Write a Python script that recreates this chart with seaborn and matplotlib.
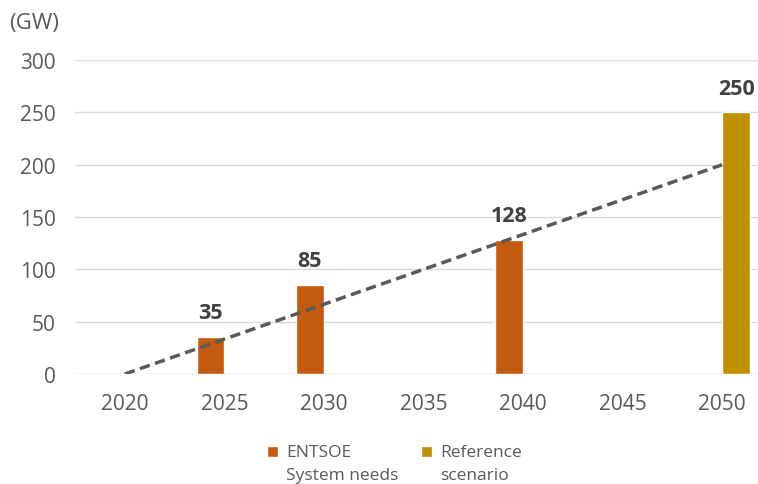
import pandas as pd
import seaborn as sns
import matplotlib.pyplot as plt
from matplotlib.patches import Rectangle
from matplotlib.legend_handler import HandlerPatch

# Data
years = ["2020", "2025", "2030", "2035", "2040", "2045", "2050"]
series_names = ["ENTSOE\nSystem needs", "Reference\nscenario"]
entsoe_years = ["2025", "2030", "2040"]
entsoe_values = [35, 85, 128]
reference_years = ["2050"]
reference_values = [250]
trend_years = ["2020", "2050"]
trend_values = [0, 200]

colors = ["#C55A11", "#BF9000"]

df = pd.DataFrame({
    "year": entsoe_years + reference_years,
    "value": entsoe_values + reference_values,
    "series": [series_names[0]] * len(entsoe_years) + [series_names[1]] * len(reference_years),
})

sns.set_theme(style="white")
plt.rcParams["font.family"] = ["Open Sans", "DejaVu Sans"]

fig = plt.figure(figsize=(7.58, 4.85), dpi=100)
ax = fig.add_axes([0.099, 0.2268, 0.901, 0.6472])

sns.barplot(data=df, x="year", y="value", hue="series", order=years,
            hue_order=series_names, palette=colors, width=0.56, gap=0,
            dodge=True, saturation=1, ax=ax)

# linear trend line through category centres
sns.lineplot(x=[years.index(y) for y in trend_years], y=trend_values,
             color="#595959", lw=2.5, linestyle=(0, (3, 1.6)), ax=ax,
             legend=False)

for cont in ax.containers:
    ax.bar_label(cont, fmt="%d", padding=10, fontsize=15.5, fontweight="bold",
                 color="#404040")

ax.set_ylim(0, 300)
ax.set_xlim(-0.5, 6.36)
ax.set_yticks(range(0, 301, 50))
ax.yaxis.grid(True, color="#D9D9D9", lw=1)
ax.set_axisbelow(True)
for s in ["top", "right", "left", "bottom"]:
    ax.spines[s].set_visible(False)
ax.axhline(0, color="#D9D9D9", lw=1, zorder=0)
ax.tick_params(axis="both", length=0, labelsize=15, labelcolor="#595959")
ax.tick_params(axis="x", pad=14)
ax.tick_params(axis="y", pad=14)
ax.set_xlabel("")
ax.set_ylabel("")
fig.text(0.012, 0.952, "(GW)", fontsize=16, color="#595959", va="center")


# legend squares sit next to the first line of the two-line labels
def top_square(legend, orig_handle, xdescent, ydescent, width, height, fontsize):
    return Rectangle((-xdescent, -ydescent + 8.3), width, height)


handles, labels = ax.get_legend_handles_labels()
leg = ax.legend(handles, labels, loc="lower center", bbox_to_anchor=(0.52, -0.03),
                bbox_transform=fig.transFigure, ncol=2, frameon=False,
                fontsize=12.5, labelcolor="#595959", handlelength=0.65,
                handleheight=0.65, handletextpad=0.45, columnspacing=1.3,
                handler_map={h: HandlerPatch(patch_func=top_square) for h in handles})
for t in leg.get_texts():
    t.set_linespacing(1.6)

plt.savefig("out.png", dpi=100)
